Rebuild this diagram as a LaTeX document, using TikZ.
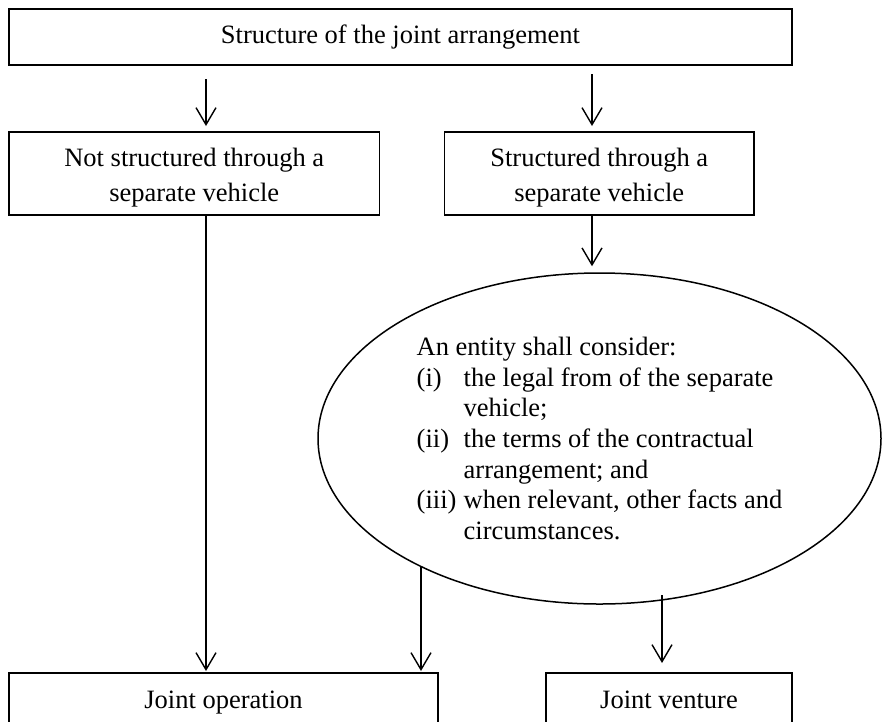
\documentclass[tikz,border=0pt]{standalone}
\usepackage{fontspec}
\setmainfont{Liberation Serif}
\usetikzlibrary{arrows.meta,shapes.geometric}
\begin{document}
\begin{tikzpicture}[x=1pt,y=-1pt,
  box/.style={draw,line width=1.8pt,inner sep=0pt,outer sep=0pt,font=\fontsize{26.5}{35}\selectfont},
  one/.style={text height=18pt,text depth=6pt},
  txt/.style={inner sep=0pt,align=center,font=\fontsize{26.5}{35}\selectfont},
  conn/.style={line width=1.4pt,-{Straight Barb[length=17pt,width=20pt]}}]
\useasboundingbox[fill=white] (0,0) rectangle (883,721);
% boxes
\node[box,one,minimum width=783,minimum height=56] (top) at (400.5,37) {Structure of the joint arrangement};
\node[box,minimum width=370.5,minimum height=83] (nsv) at (194.25,173.5) {};
\node[txt] (nsvt) at ([yshift=-3.8pt]nsv.center) {Not structured through a\\separate vehicle};
\node[box,minimum width=309.5,minimum height=83] (sv) at (599.25,173.5) {};
\node[txt] (svt) at ([yshift=-3.8pt]sv.center) {Structured through a\\separate vehicle};
\node[draw,ellipse,line width=1.5pt,inner sep=0pt,minimum width=563,minimum height=331,align=left,
  font=\fontsize{26.5}{30.7}\selectfont] (ell) at (599.5,438.5)
  {An entity shall consider:\\
   \makebox[47pt][l]{(i)}the legal from of the separate\\
   \hspace*{47pt}vehicle;\\
   \makebox[47pt][l]{(ii)}the terms of the contractual\\
   \hspace*{47pt}arrangement; and\\
   \makebox[47pt][l]{(iii)}when relevant, other facts and\\
   \hspace*{47pt}circumstances.};
\node[box,one,minimum width=429,minimum height=58] (jo) at (223.5,702) {Joint operation};
\node[box,one,minimum width=246,minimum height=58] (jv) at (669,702) {Joint venture};
% connector start points
\coordinate (c1) at (206,79);
\coordinate (c2) at (592,74);
\coordinate (c3) at (421,567);
\coordinate (c4) at (662,595);
% connectors
\draw[conn,shorten >=6pt] (c1) -- (c1 |- nsv.north);
\draw[conn,shorten >=6pt] (c2) -- (c2 |- sv.north);
\draw[conn,shorten >=2pt] (c1 |- nsv.south) -- (c1 |- jo.north);
\draw[conn,shorten >=6pt] (c2 |- sv.south) -- (c2 |- ell.north);
\draw[conn,shorten >=2pt] (c3) -- (c3 |- jo.north);
\draw[conn,shorten >=10pt] (c4) -- (c4 |- jv.north);
\end{tikzpicture}
\end{document}
